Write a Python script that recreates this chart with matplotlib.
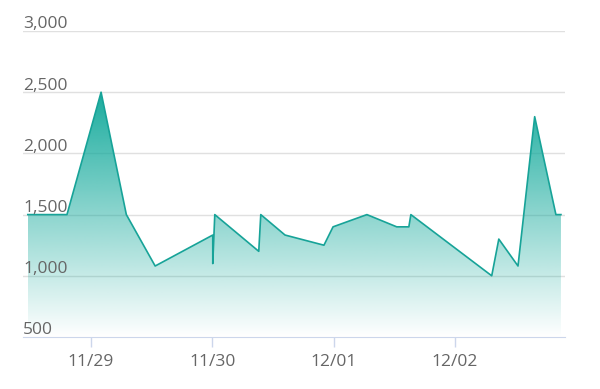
import numpy as np
import matplotlib.pyplot as plt
from matplotlib.patches import Polygon

# hours since 11/29 00:00, and values
hours = [-12.5, -4.75, 2.0, 7.0, 12.7, 24.1, 24.1, 24.5, 33.2, 33.6, 38.4,
         46.1, 47.9, 54.6, 60.5, 62.9, 63.3, 79.3, 80.7, 84.5, 87.8, 92.0, 93.0]
values = [1500, 1500, 2500, 1500, 1080, 1333, 1100, 1500, 1200, 1500, 1333,
          1250, 1400, 1500, 1400, 1400, 1500, 1000, 1300, 1080, 2300, 1500, 1500]
tick_hours = [0, 24, 48, 72]
tick_labels = ['11/29', '11/30', '12/01', '12/02']
yticks = [500, 1000, 1500, 2000, 2500, 3000]

plt.rcParams['font.family'] = ['Open Sans', 'DejaVu Sans']

line_color = '#17a398'
top_color = np.array([0x12, 0xa9, 0x9b]) / 255.0

fig = plt.figure(figsize=(6, 3.89), dpi=100)
ax = fig.add_axes([23/600, 52/389, 542/600, 306/389])
ax.set_xlim(-13.45, 93.8)
ax.set_ylim(500, 3000)

# grid lines (under the semi transparent fill)
for v in yticks[1:]:
    ax.axhline(v, color='#e0e0e0', lw=1, zorder=0.5)

# gradient fill under the line: colour fading to transparent
ymin, ymax = 500, max(values)
n = 256
t = np.linspace(0, 1, n)[:, None]
img = np.zeros((n, 1, 4))
img[:, 0, :3] = top_color
img[:, 0, 3] = t[:, 0] * 0.97
im = ax.imshow(img, extent=[hours[0], hours[-1], ymin, ymax], origin='lower',
               aspect='auto', zorder=1, interpolation='bilinear')
verts = [(hours[0], ymin)] + list(zip(hours, values)) + [(hours[-1], ymin)]
poly = Polygon(verts, closed=True, facecolor='none', edgecolor='none')
ax.add_patch(poly)
im.set_clip_path(poly)

ax.plot(hours, values, color=line_color, lw=1.2, zorder=3)

for s in ['top', 'right', 'left']:
    ax.spines[s].set_visible(False)
ax.spines['bottom'].set_color('#ccd6eb')
ax.spines['bottom'].set_zorder(4)

ax.set_yticks([])
for v in yticks:
    ax.text(-13.45, v + 22, f'{v:,}', ha='left', va='baseline',
            fontsize=12.5, color='#666666', zorder=5)

ax.set_xticks(tick_hours)
ax.set_xticklabels(tick_labels, fontsize=12.5, color='#666666')
ax.tick_params(axis='x', length=7, width=1, color='#ccd6eb', pad=5)

fig.savefig('out.png', dpi=100)
